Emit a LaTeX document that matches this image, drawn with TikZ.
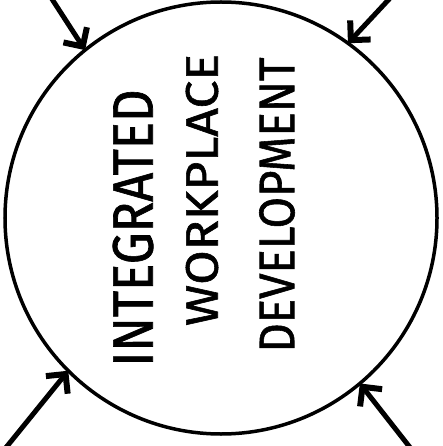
\documentclass[tikz,border=0pt]{standalone}
\usepackage{fontspec}
\setmainfont{Fira Sans}
\newfontfamily\handfont{Fira Sans}[FakeBold=1.2]
\usetikzlibrary{arrows.meta}
\tikzset{
  ring/.style={draw=black, line width=3.5pt, circle, minimum size=432pt, inner sep=0pt, outer sep=0pt},
  inarrow/.style={draw=black, line width=5pt, line cap=round,
    -{Straight Barb[length=14pt,width=28pt,line width=6pt]}},
  label/.style={rotate=90, inner sep=0pt, text=black, font=\handfont}
}
\begin{document}
\begin{tikzpicture}[x=1pt,y=-1pt]
\useasboundingbox (0,0) rectangle (443,446);
\node[ring] (c) at (221,218) {};
\coordinate (stl) at (50,-4);
\coordinate (str) at (392,-4);
\coordinate (sbl) at (4,450);
\coordinate (sbr) at (412,450);
\draw[inarrow] (stl) -- (c.129);
\draw[inarrow] (str) -- (c.54);
\draw[inarrow] (sbl) -- (c.225);
\draw[inarrow] (sbr) -- (c.310);
\node[label] (t1) at (133,228) {\resizebox{277pt}{40pt}{INTEGRATED}};
\node[label] (t2) at (202,190) {\resizebox{272pt}{32pt}{WORKPLACE}};
\node[label] (t3) at (277,205) {\resizebox{295pt}{35pt}{DEVELOPMENT}};
\end{tikzpicture}
\end{document}
